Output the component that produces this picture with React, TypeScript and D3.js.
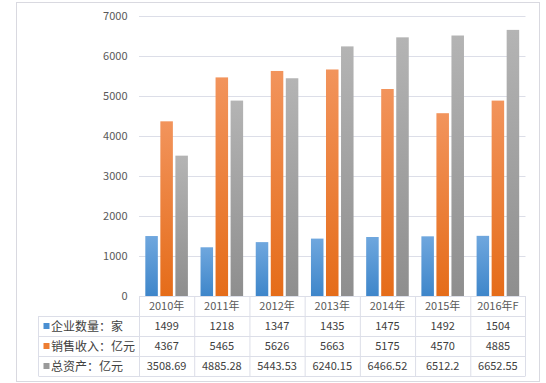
import React from "react";
import * as d3 from "d3";

const categories = ["2010年", "2011年", "2012年", "2013年", "2014年", "2015年", "2016年F"];
const seriesNames = ["企业数量：家", "销售收入：亿元", "总资产：亿元"];
const companies = [1499, 1218, 1347, 1435, 1475, 1492, 1504];
const revenue = [4367, 5465, 5626, 5663, 5175, 4570, 4885];
const assets = [3508.69, 4885.28, 5443.53, 6240.15, 6466.52, 6512.2, 6652.55];
const tableLabels = [
  ["1499", "1218", "1347", "1435", "1475", "1492", "1504"],
  ["4367", "5465", "5626", "5663", "5175", "4570", "4885"],
  ["3508.69", "4885.28", "5443.53", "6240.15", "6466.52", "6512.2", "6652.55"],
];
const yTicks = [0, 1000, 2000, 3000, 4000, 5000, 6000, 7000];

const W = 546;
const H = 383;
const left = 139;
const right = 525.5;
const top = 16;
const bottom = 296;
const rowH = 20;
const tableLeft = 38.5;

const colors = [
  { top: "#6fa7de", bottom: "#3e86ca", legend: "#4a8fd2" },
  { top: "#f2945c", bottom: "#e56c19", legend: "#ed7d31" },
  { top: "#b4b4b4", bottom: "#8e8e8e", legend: "#9a9a9a" },
];
const grid = "#dcdee8";
const font = "'Noto Sans CJK SC', 'Noto Sans', sans-serif";

export default function App() {
  const series = [companies, revenue, assets];
  const x = d3.scaleBand<string>().domain(categories).range([left, right]).padding(0);
  const inner = d3
    .scaleBand<number>()
    .domain([0, 1, 2])
    .range([0, x.bandwidth()])
    .paddingInner(0.167)
    .paddingOuter(0.42);
  const y = d3.scaleLinear().domain([0, 7000]).range([bottom, top]);
  const tableBottom = bottom + rowH * 4;

  return (
    <div style={{ position: "absolute", left: 0, top: 0, width: W, height: H }}>
      <svg width={W} height={H} style={{ display: "block", fontFamily: font }}>
        <defs>
          {colors.map((c, i) => (
            <linearGradient key={i} id={`g${i}`} x1="0" y1="0" x2="0" y2="1">
              <stop offset="0%" stopColor={c.top} />
              <stop offset="100%" stopColor={c.bottom} />
            </linearGradient>
          ))}
        </defs>
        <rect x={0} y={0} width={W} height={H} fill="#fff" />
        <rect x={16.5} y={2.5} width={523} height={379} fill="none" stroke="#d9d9e0" strokeWidth={1} />
        {yTicks.map((t) =>
          t > 0 ? (
            <line key={"g" + t} x1={left} x2={right} y1={Math.round(y(t)) + 0.5} y2={Math.round(y(t)) + 0.5} stroke={grid} strokeWidth={1} />
          ) : null
        )}
        {yTicks.map((t) => (
          <text key={"t" + t} x={127.5} y={y(t) + 4} textAnchor="end" fontSize={11} fill="#595959">
            {t}
          </text>
        ))}
        {series.map((vals, si) =>
          vals.map((v, ci) => {
            const bx = (x(categories[ci]) as number) + (inner(si) as number);
            return (
              <rect
                key={`b${si}-${ci}`}
                x={bx}
                y={y(v)}
                width={inner.bandwidth()}
                height={bottom - y(v)}
                fill={`url(#g${si})`}
              />
            );
          })
        )}
        {/* table lines */}
        <line x1={left} x2={right} y1={bottom + 0.5} y2={bottom + 0.5} stroke={grid} />
        {[1, 2, 3, 4].map((r) => (
          <line key={"h" + r} x1={tableLeft} x2={right} y1={bottom + rowH * r + 0.5} y2={bottom + rowH * r + 0.5} stroke={grid} />
        ))}
        <line x1={tableLeft} x2={tableLeft} y1={bottom + rowH} y2={tableBottom} stroke={grid} />
        {categories.map((c) => (
          <line key={"v" + c} x1={(x(c) as number) + 0.5} x2={(x(c) as number) + 0.5} y1={bottom} y2={tableBottom} stroke={grid} />
        ))}
        <line x1={right} x2={right} y1={bottom} y2={tableBottom} stroke={grid} />
        {categories.map((c) => (
          <text key={"c" + c} x={(x(c) as number) + x.bandwidth() / 2} y={bottom + 14} textAnchor="middle" fontSize={11} fill="#595959">
            {c}
          </text>
        ))}
        {seriesNames.map((n, si) => (
          <g key={"s" + si}>
            <rect x={43.5} y={bottom + rowH * (si + 1) + 7} width={6} height={6} fill={colors[si].legend} />
            <text x={51} y={bottom + rowH * (si + 1) + 14.5} fontSize={12} fill="#404040">
              {n}
            </text>
            {tableLabels[si].map((v, ci) => (
              <text
                key={"v" + ci}
                x={(x(categories[ci]) as number) + x.bandwidth() / 2}
                y={bottom + rowH * (si + 1) + 14}
                textAnchor="middle"
                fontSize={11}
                fill="#404040"
              >
                {v}
              </text>
            ))}
          </g>
        ))}
      </svg>
    </div>
  );
}
